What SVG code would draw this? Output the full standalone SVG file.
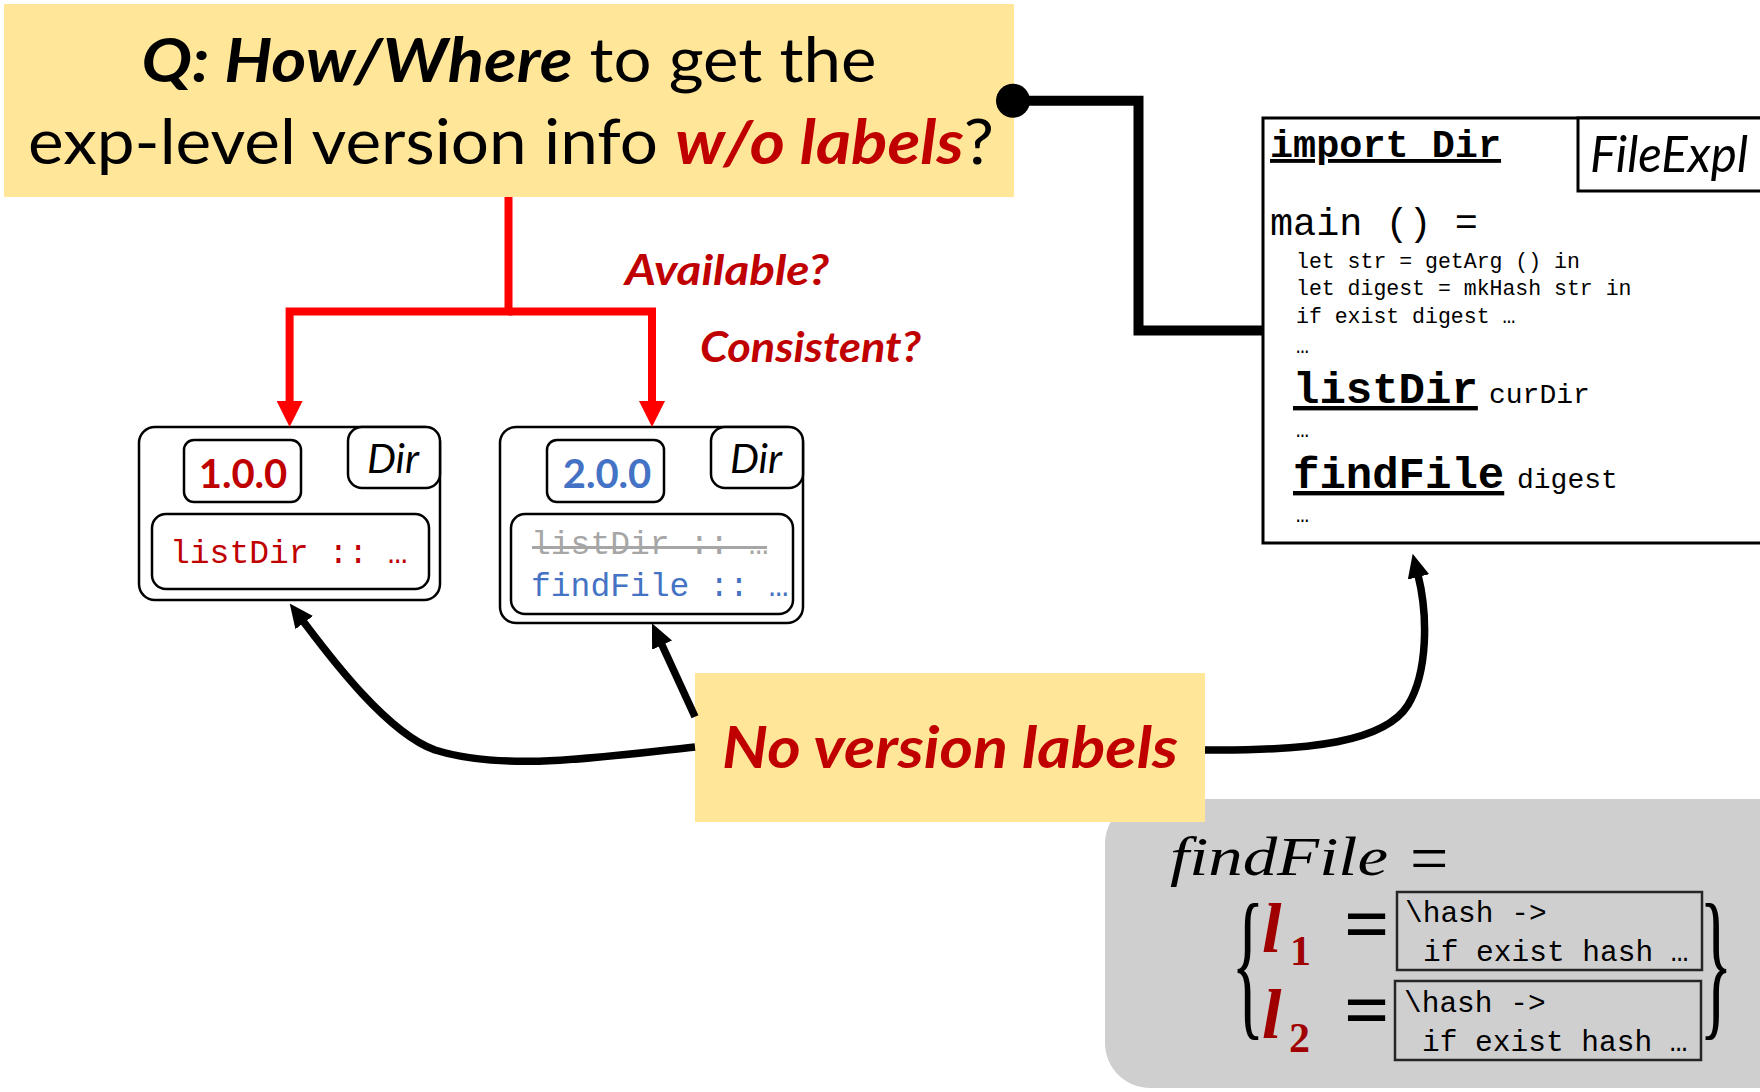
<svg xmlns="http://www.w3.org/2000/svg" width="1760" height="1092" viewBox="0 0 1760 1092">
  <style>
    .sans { font-family: Lato, "Open Sans", "Liberation Sans", sans-serif; }
    .mono { font-family: "Liberation Mono", "DejaVu Sans Mono", monospace; }
    .serif { font-family: "Liberation Serif", "DejaVu Serif", serif; }
    .note { fill: #FFE699; }
    .card { fill: #FFFFFF; stroke: #000000; stroke-width: 2.5; }
    .bi { font-weight: 700; font-style: italic; }
    .warn { fill: #C00000; }
    .blue { fill: #4472C4; }
    .red-line { fill: none; stroke: #FF0000; stroke-width: 8; stroke-linejoin: miter; }
    .blk-line { fill: none; stroke: #000000; stroke-width: 7.5; }
    .code-box { fill: none; stroke: #262626; stroke-width: 2.5; }
  </style>
  <defs>
    <marker id="arrRed" markerUnits="userSpaceOnUse" viewBox="0 0 26 26" markerWidth="26" markerHeight="26" refX="2" refY="13" orient="auto">
      <path d="M0,0 L26,13 L0,26 z" fill="#FF0000"/>
    </marker>
    <marker id="arrBlk" markerUnits="userSpaceOnUse" viewBox="0 0 24 22" markerWidth="24" markerHeight="22" refX="2" refY="11" orient="auto">
      <path d="M0,0 L24,11 L0,22 z" fill="#000000"/>
    </marker>
    <marker id="dot" markerUnits="userSpaceOnUse" viewBox="0 0 36 36" markerWidth="36" markerHeight="36" refX="18" refY="18" orient="auto">
      <circle cx="18" cy="18" r="17" fill="#000000"/>
    </marker>
  </defs>

  <!-- question banner -->
  <g id="question">
    <rect class="note" x="4" y="4" width="1010" height="193"/>
    <text class="sans" x="509" y="82" font-size="62" text-anchor="middle" textLength="735" lengthAdjust="spacingAndGlyphs"><tspan class="bi">Q: How/Where</tspan> to get the</text>
    <text class="sans" x="511" y="164" font-size="62" text-anchor="middle" textLength="966" lengthAdjust="spacingAndGlyphs">exp-level version info <tspan class="bi warn">w/o labels</tspan>?</text>
  </g>

  <!-- questions along the red branches -->
  <g id="branch-labels">
    <text class="sans bi warn" x="625" y="285" font-size="42" textLength="204" lengthAdjust="spacingAndGlyphs">Available?</text>
    <text class="sans bi warn" x="700" y="362" font-size="42" textLength="221" lengthAdjust="spacingAndGlyphs">Consistent?</text>
  </g>

  <!-- module Dir, version 1.0.0 -->
  <g id="dir-v1">
    <rect class="card" x="139" y="427" width="301" height="173" rx="16"/>
    <rect class="card" x="184" y="440" width="117" height="62" rx="10"/>
    <text class="sans warn" x="243" y="488" font-size="40" font-weight="700" text-anchor="middle">1.0.0</text>
    <rect class="card" x="348" y="427" width="92" height="61" rx="14"/>
    <text class="sans" x="393" y="473" font-size="41" font-style="italic" text-anchor="middle">Dir</text>
    <rect class="card" x="152" y="514" width="277" height="75" rx="14"/>
    <text class="mono warn" x="170" y="563" font-size="33">listDir :: …</text>
  </g>

  <!-- module Dir, version 2.0.0 -->
  <g id="dir-v2">
    <rect class="card" x="500" y="427" width="303" height="196" rx="16"/>
    <rect class="card" x="547" y="440" width="117" height="62" rx="10"/>
    <text class="sans blue" x="607" y="488" font-size="40" font-weight="700" text-anchor="middle">2.0.0</text>
    <rect class="card" x="711" y="427" width="92" height="61" rx="14"/>
    <text class="sans" x="756" y="473" font-size="41" font-style="italic" text-anchor="middle">Dir</text>
    <rect class="card" x="511" y="514" width="282" height="100" rx="14"/>
    <text class="mono" x="531" y="554" font-size="33" fill="#A6A6A6">listDir :: …</text>
    <line x1="532" y1="547.5" x2="767" y2="547.5" stroke="#A6A6A6" stroke-width="3"/>
    <text class="mono blue" x="531" y="596" font-size="33">findFile :: …</text>
  </g>

  <!-- client program FileExpl -->
  <g id="file-expl">
    <rect x="1263" y="118" width="520" height="425" fill="#FFFFFF" stroke="#000000" stroke-width="3"/>
    <rect x="1578" y="118" width="200" height="73" fill="#FFFFFF" stroke="#000000" stroke-width="3"/>
    <text class="sans" x="1590" y="172" font-size="50" font-style="italic" textLength="158" lengthAdjust="spacingAndGlyphs">FileExpl</text>
    <g class="mono">
      <text x="1270" y="157" font-size="38.5" font-weight="700" text-decoration="underline">import Dir</text>
      <text x="1270" y="235" font-size="38.5">main () =</text>
      <text x="1296" y="268" font-size="21.5">let str = getArg () in</text>
      <text x="1296" y="295" font-size="21.5">let digest = mkHash str in</text>
      <text x="1296" y="323" font-size="21.5">if exist digest …</text>
      <text x="1296" y="353" font-size="21.5">…</text>
      <text x="1293" y="403" font-size="44" font-weight="700" text-decoration="underline">listDir</text>
      <text x="1489" y="403" font-size="28">curDir</text>
      <text x="1296" y="437" font-size="21.5">…</text>
      <text x="1293" y="488" font-size="44" font-weight="700" text-decoration="underline">findFile</text>
      <text x="1517" y="488" font-size="28">digest</text>
      <text x="1296" y="522" font-size="21.5">…</text>
    </g>
  </g>

  <!-- labelled definitions of findFile -->
  <g id="find-file-def">
    <rect x="1105" y="799" width="700" height="289" rx="45" fill="#CFCFCF"/>
    <text class="serif" x="1170" y="875" font-size="54" font-style="italic" textLength="218" lengthAdjust="spacingAndGlyphs">findFile</text>
    <text class="serif" x="1410" y="881" font-size="68">=</text>
    <text class="serif" transform="translate(1248,1018) scale(0.42,1)" font-size="165" text-anchor="middle">{</text>
    <text class="serif" transform="translate(1716,1018) scale(0.42,1)" font-size="165" text-anchor="middle">}</text>
    <text class="serif" x="1262" y="952" font-size="70" font-weight="700" font-style="italic" fill="#A00000">l</text>
    <text class="serif" x="1290" y="965" font-size="42" font-weight="700" fill="#A00000">1</text>
    <text class="serif" x="1344" y="951" font-size="80" font-weight="700">=</text>
    <rect class="code-box" x="1397" y="892" width="305" height="78"/>
    <text class="mono" x="1405" y="922" font-size="29.5">\hash -&gt;</text>
    <text class="mono" x="1423" y="961" font-size="29.5">if exist hash …</text>
    <text class="serif" x="1262" y="1038" font-size="70" font-weight="700" font-style="italic" fill="#A00000">l</text>
    <text class="serif" x="1289" y="1052" font-size="42" font-weight="700" fill="#A00000">2</text>
    <text class="serif" x="1344" y="1037" font-size="80" font-weight="700">=</text>
    <rect class="code-box" x="1395" y="981" width="306" height="79"/>
    <text class="mono" x="1404" y="1012" font-size="29.5">\hash -&gt;</text>
    <text class="mono" x="1422" y="1051" font-size="29.5">if exist hash …</text>
  </g>

  <!-- observation -->
  <g id="no-labels">
    <rect class="note" x="695" y="673" width="510" height="149"/>
    <text class="sans bi warn" x="722" y="768" font-size="57" textLength="456" lengthAdjust="spacingAndGlyphs">No version labels</text>
  </g>

  <!-- connectors -->
  <g id="connectors">
    <path class="red-line" d="M508.5,197 V311.5 H289.6 V403" marker-end="url(#arrRed)"/>
    <path class="red-line" d="M508.5,311.5 H652 V403" marker-end="url(#arrRed)"/>
    <path d="M1013,100.7 H1138.5 V330.5 H1263" fill="none" stroke="#000000" stroke-width="10" marker-start="url(#dot)"/>
    <path class="blk-line" d="M695,747 C600,757 505,772 435,750 C385,732 325,650 303,621" marker-end="url(#arrBlk)"/>
    <path class="blk-line" d="M695,716.7 L661.2,643.3" marker-end="url(#arrBlk)"/>
    <path class="blk-line" d="M1205,750 C1310,751 1385,742 1408,705 C1428,672 1428,615 1418,575" marker-end="url(#arrBlk)"/>
  </g>
</svg>
